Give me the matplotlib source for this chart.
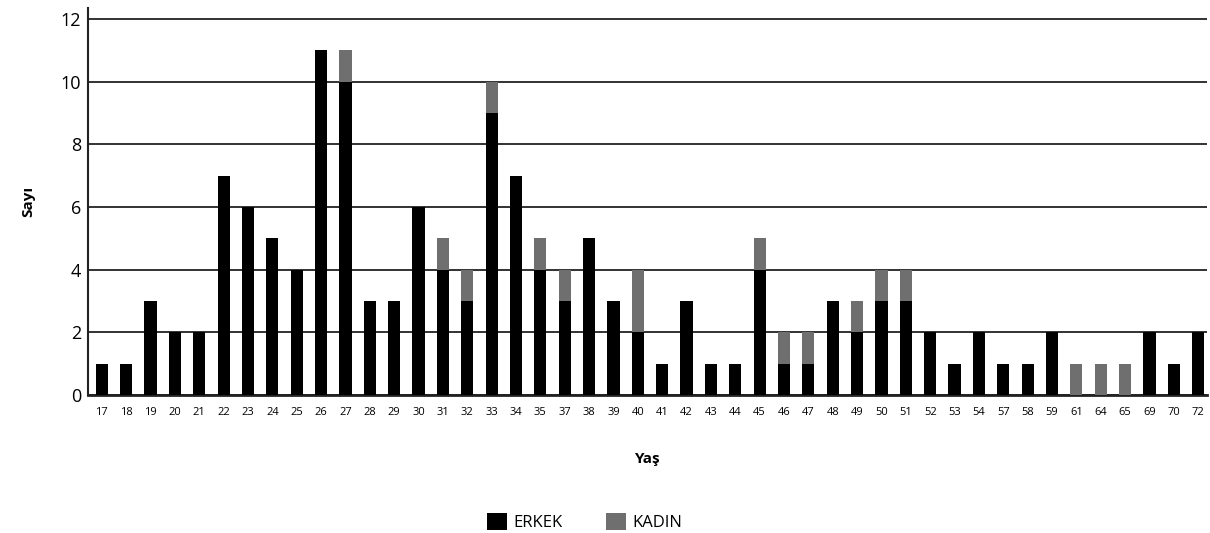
import matplotlib
matplotlib.use("Agg")
import matplotlib.pyplot as plt
import numpy as np

plt.rcParams['font.family'] = ['Open Sans', 'DejaVu Sans']

ages = ["17","18","19","20","21","22","23","24","25","26","27","28","29","30","31","32","33","34","35","37",
        "38","39","40","41","42","43","44","45","46","47","48","49","50","51","52","53","54","57","58","59",
        "61","64","65","69","70","72"]
erkek = [1,1,3,2,2,7,6,5,4,11,10,3,3,6,4,3,9,7,4,3,
         5,3,2,1,3,1,1,4,1,1,3,2,3,3,2,1,2,1,1,2,
         0,0,0,2,1,2]
kadin = [0,0,0,0,0,0,0,0,0,0,1,0,0,0,1,1,1,0,1,1,
         0,0,2,0,0,0,0,1,1,1,0,1,1,1,0,0,0,0,0,0,
         1,1,1,0,0,0]

fig = plt.figure(figsize=(12.1, 5.33), dpi=100)
ax = fig.add_axes([0.0727, 0.259, 0.925, 0.726])

x = np.arange(len(ages))
ax.bar(x, erkek, width=0.5, color="#000000", label="ERKEK", zorder=3)
ax.bar(x, kadin, width=0.5, bottom=erkek, color="#6f6f6f", label="KADIN", zorder=3)

ax.set_ylim(0, 12.35)
ax.set_xlim(-0.57, len(ages) - 1 + 0.37)
ax.set_yticks(range(0, 13, 2))
ax.set_xticks(x)
ax.set_xticklabels(ages, fontsize=8)
ax.tick_params(axis='y', labelsize=13, length=0, pad=5)
ax.tick_params(axis='x', length=0, pad=9)
ax.yaxis.grid(True, color="#222222", linewidth=1.3, zorder=0)
for s in ["top", "right"]:
    ax.spines[s].set_visible(False)
ax.spines["left"].set_linewidth(1.5)
ax.spines["bottom"].set_linewidth(2)
ax.spines["left"].set_color("#222222")
ax.spines["bottom"].set_color("#222222")

ax.set_ylabel("Sayı", fontsize=11, fontweight="bold", labelpad=18)
ax.set_xlabel("Yaş", fontsize=11, fontweight="bold", labelpad=24)

fig.legend(loc="center", bbox_to_anchor=(0.483, 0.02), ncol=2, frameon=False,
           fontsize=12, handlelength=1.2, handleheight=1.2, columnspacing=2.6, handletextpad=0.4)

fig.savefig("out.png", dpi=100)
